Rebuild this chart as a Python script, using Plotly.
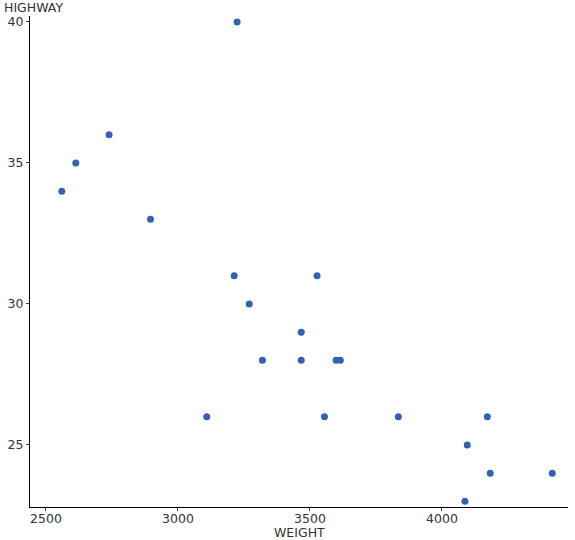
import plotly.graph_objects as go

weight = [3224, 2739, 2613, 2560, 2896, 3213, 3527, 3270, 3467, 3320, 3467, 3599, 3615,
          3109, 3555, 3835, 4172, 4096, 4183, 4418, 4087]
highway = [40, 36, 35, 34, 33, 31, 31, 30, 29, 28, 28, 28, 28,
           26, 26, 26, 26, 25, 24, 24, 23]

W, H = 575, 540
L, R, T, B = 30, 7, 16, 33

fig = go.Figure(go.Scatter(
    x=weight, y=highway, mode="markers",
    marker=dict(color="#3162b8", size=7, line=dict(width=0)),
))

font = dict(family="DejaVu Sans", size=12.5, color="#333333")
axis_common = dict(showgrid=False, zeroline=False, showline=True, linecolor="black",
                   linewidth=1, ticks="outside", ticklen=3, tickcolor="#444",
                   tickfont=font, automargin=False)
fig.update_layout(
    width=W, height=H,
    margin=dict(l=L, r=R, t=T, b=B, autoexpand=False),
    plot_bgcolor="white", paper_bgcolor="white",
    showlegend=False,
    font=font,
    xaxis=dict(range=[2439.5, 4477.6], tickvals=[2500, 3000, 3500, 4000],
               ticklabelstandoff=-3, **axis_common),
    yaxis=dict(range=[22.8, 40.21], tickvals=[25, 30, 35, 40], **axis_common),
)
pw = W - L - R
ph = H - T - B
fig.add_annotation(text="HIGHWAY", x=(2 - L) / pw, y=1 + (T - 7) / ph,
                   xref="paper", yref="paper", xanchor="left", yanchor="middle",
                   showarrow=False, font=font)
fig.add_annotation(text="WEIGHT", x=0.5, y=-(532.5 - (H - B)) / ph,
                   xref="paper", yref="paper", xanchor="center", yanchor="middle",
                   showarrow=False, font=font)

fig.write_html("out.html", config={"displayModeBar": False},
               post_script="document.body.style.margin='0';document.body.style.padding='0';")
